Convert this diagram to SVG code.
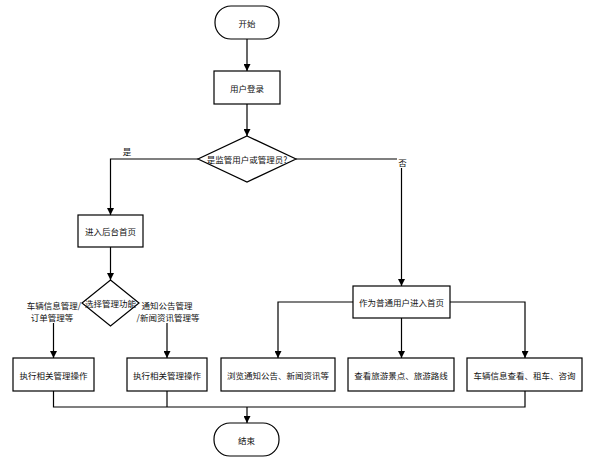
<svg xmlns="http://www.w3.org/2000/svg" width="595" height="461" viewBox="0 0 595 461">
<style>
.n{fill:#fff;stroke:#000;stroke-width:1.2}
.t{font-family:"Noto Sans CJK SC","Liberation Sans",sans-serif;font-size:8.5px;fill:#111;text-anchor:middle;dominant-baseline:central}
.c{fill:none;stroke:#000;stroke-width:1.2}
</style>
<defs>
<marker id="a" viewBox="0 0 10 10" refX="10" refY="5" markerWidth="7" markerHeight="7" markerUnits="userSpaceOnUse" orient="auto">
<path d="M0,0L10,5L0,10z" fill="#000"/>
</marker>
</defs>
<rect width="595" height="461" fill="#fff"/>
<g id="connectors">
<path class="c" d="M247,39V71" marker-end="url(#a)"/>
<path class="c" d="M247,104V136" marker-end="url(#a)"/>
<path class="c" d="M198,159H110.5V215" marker-end="url(#a)"/>
<path class="c" d="M296,159H401.5V286" marker-end="url(#a)"/>
<path class="c" d="M110.5,247V280" marker-end="url(#a)"/>
<path class="c" d="M82,303H53.5V358" marker-end="url(#a)"/>
<path class="c" d="M139,303H167V358" marker-end="url(#a)"/>
<path class="c" d="M353,302H278V358" marker-end="url(#a)"/>
<path class="c" d="M401.5,318V358" marker-end="url(#a)"/>
<path class="c" d="M450,302H525V358" marker-end="url(#a)"/>
<path class="c" d="M53.5,391V407H247"/>
<path class="c" d="M167,391V407"/>
<path class="c" d="M525,391V407H247"/>
<path class="c" d="M247,407V423" marker-end="url(#a)"/>
<text class="t" x="127" y="151">是</text>
<rect x="397" y="157" width="11" height="11" fill="#fff"/>
<text class="t" x="402.5" y="162">否</text>
<rect x="26" y="299" width="56" height="24" fill="#fff"/>
<text class="t" x="54" y="305">车辆信息管理/</text>
<text class="t" x="52" y="317">订单管理等</text>
<rect x="138" y="299" width="62" height="24" fill="#fff"/>
<text class="t" x="167" y="305">通知公告管理</text>
<text class="t" x="168" y="317">/新闻资讯管理等</text>
</g>
<g id="start"><rect class="n" x="215" y="6" width="64" height="33" rx="16"/><text class="t" x="247" y="22.5">开始</text></g>
<g id="login"><rect class="n" x="214" y="71" width="66" height="33"/><text class="t" x="247" y="87.5">用户登录</text></g>
<g id="decision1"><path class="n" d="M247,136L296,159L247,182L198,159Z"/><text class="t" x="247" y="159">是监管用户或管理员?</text></g>
<g id="backend"><rect class="n" x="78" y="215" width="65" height="32"/><text class="t" x="110.5" y="231">进入后台首页</text></g>
<g id="decision2"><path class="n" d="M110.5,280L139,303L110.5,326L82,303Z"/><text class="t" x="110.5" y="303">选择管理功能</text></g>
<g id="userhome"><rect class="n" x="353" y="286" width="97" height="32"/><text class="t" x="401.5" y="302">作为普通用户进入首页</text></g>
<g id="op1"><rect class="n" x="13" y="358" width="81" height="33"/><text class="t" x="53.5" y="374.5">执行相关管理操作</text></g>
<g id="op2"><rect class="n" x="127" y="358" width="80" height="33"/><text class="t" x="167" y="374.5">执行相关管理操作</text></g>
<g id="browse"><rect class="n" x="221" y="358" width="114" height="33"/><text class="t" x="278" y="374.5">浏览通知公告、新闻资讯等</text></g>
<g id="scenic"><rect class="n" x="348" y="358" width="106" height="33"/><text class="t" x="401" y="374.5">查看旅游景点、旅游路线</text></g>
<g id="car"><rect class="n" x="467" y="358" width="115" height="33"/><text class="t" x="524.5" y="374.5">车辆信息查看、租车、咨询</text></g>
<g id="end"><rect class="n" x="214" y="423" width="65" height="33" rx="16"/><text class="t" x="246.5" y="439.5">结束</text></g>
</svg>
